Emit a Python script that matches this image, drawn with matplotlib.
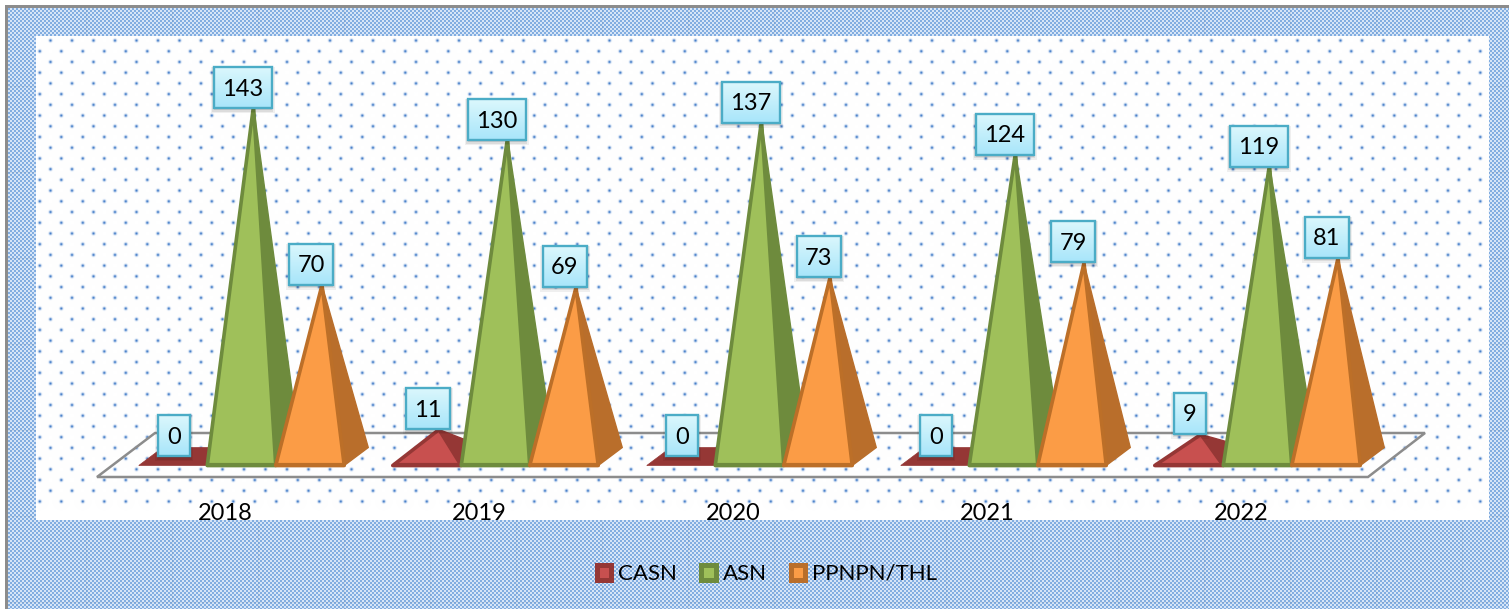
import numpy as np
import matplotlib
matplotlib.use('Agg')
import matplotlib.pyplot as plt
from matplotlib.patches import Patch, Polygon, Rectangle

plt.rcParams['font.family'] = ['Lato', 'DejaVu Sans']

years = ['2018', '2019', '2020', '2021', '2022']
series = ['CASN', 'ASN', 'PPNPN/THL']
casn = [0, 11, 0, 0, 9]
asn = [143, 130, 137, 124, 119]
ppnpn = [70, 69, 73, 79, 81]
values = [casn, asn, ppnpn]
face = ['#C8504F', '#9FC05A', '#FB9C46']
side = ['#953735', '#6E8B3D', '#B96E2B']
edge = ['#953735', '#6E8B3D', '#BC6F28']

# pixel scale of the data axes
W, H = 1509, 609
PX_X = 254.0    # px per category
PX_Y = 2.45     # px per unit
X0, Y0 = 241.5, 456.5   # where category 0 / value 0 sit


def ux(px):
    return px / PX_X


def uy(px):
    return px / PX_Y


# background pattern
yy, xx = np.mgrid[0:H, 0:W]
chk = ((xx // 2 + yy // 2) % 2).astype(float)
c1 = np.array([0.51, 0.68, 0.88])
c2 = np.array([0.84, 0.90, 0.97])
bg = c1 + (c2 - c1) * chk[..., None]
seam = (xx % 86 < 1) | (yy % 86 < 1)
bg[seam] = bg[seam] * 0.95
# white panel with staggered dots
panel = np.ones((H, W, 3))
d = np.full((H, W), 99.0)
for row in range(0, 46):
    ypos = 40 + row * 10.72 - 10.72 * 2
    off = 50 if row % 2 == 0 else 39.3
    dx = (xx - off + 21.5 * 5 + 10.75) % 21.5 - 10.75
    d = np.minimum(d, dx ** 2 + (yy - ypos) ** 2)
a = np.exp(-d / 2.3)[..., None]
panel = panel + (np.array([0.28, 0.50, 0.79]) - panel) * a
inner = (xx >= 36) & (xx < 1489) & (yy >= 36) & (yy < 520)
bg[inner] = panel[inner]
# outer white margin and grey frame
bg[(xx < 8) | (yy < 8)] = (0.55, 0.55, 0.55)
bg[(xx < 5) | (yy < 5)] = (1, 1, 1)

fig = plt.figure(figsize=(W / 100, H / 100), dpi=100)
fig.figimage(bg, 0, 0, origin='upper', zorder=-1)
ax = fig.add_axes([0, 0, 1, 1])
ax.patch.set_alpha(0)
ax.set_xlim(ux(0 - X0), ux(W - X0))
ax.set_ylim(uy(Y0 - H), uy(Y0))
ax.set_autoscale_on(False)
ax.axis('off')

# floor
fx = [ux(97 - X0), ux(1368 - X0), ux(1425 - X0), ux(155 - X0)]
fy = [uy(Y0 - 477), uy(Y0 - 477), uy(Y0 - 433), uy(Y0 - 433)]
ax.add_patch(Polygon(np.column_stack([fx, fy]), closed=True, fill=False,
                     ec='#8C8C8C', lw=1.8, zorder=1))

bar_w = ux(68.5)
depth_x = ux(24)
depth_y = uy(18)
front_y = -depth_y / 2
grad = np.linspace(0, 1, 32)[:, None, None]
box_top = np.array([0.86, 0.97, 0.99])
box_bot = np.array([0.66, 0.90, 0.98])
box_img = box_top + (box_bot - box_top) * grad
box_w = {1: 32, 2: 44, 3: 58}
lab_off = [21, 18.5, 21]

z = 2
for i in range(len(years)):
    for s in range(3):
        v = values[s][i]
        left = i + (s - 1.5) * bar_w
        right = left + bar_w
        apex = (left + bar_w / 2 + depth_x / 2, v)
        if v == 0:
            ax.add_patch(Polygon([(left, front_y), (right, front_y),
                                  (right + depth_x, front_y + depth_y),
                                  (left + depth_x, front_y + depth_y)],
                                 closed=True, fc=side[s], ec=side[s], lw=0.5, zorder=z))
        else:
            ax.add_patch(Polygon([(right, front_y), (right + depth_x, front_y + depth_y), apex],
                                 closed=True, fc=side[s], ec=side[s], lw=1, zorder=z))
            ax.add_patch(Polygon([(left, front_y), (right, front_y), apex],
                                 closed=True, fc=face[s], ec=edge[s], lw=2.6,
                                 joinstyle='round', zorder=z + 0.5))
            ax.plot([left, right], [front_y + uy(1), front_y + uy(1)], color=edge[s],
                    lw=3, solid_capstyle='butt', zorder=z + 0.6)
        z += 1

# value labels on top of everything
for i in range(len(years)):
    for s in range(3):
        v = values[s][i]
        cx = i + (s - 1) * bar_w + ux(1)
        cy = v + uy(lab_off[s])
        hw = ux(box_w[len(str(v))] / 2)
        hh = uy(20.5)
        for k, al in ((5, 0.06), (3.5, 0.08), (2, 0.10)):
            ax.add_patch(Rectangle((cx - hw - ux(k - 2), cy - hh - uy(k)),
                                   2 * hw + ux(2 * k - 4), 2 * hh + uy(k),
                                   fc='k', ec='none', alpha=al, zorder=100))
        ax.imshow(box_img, extent=(cx - hw, cx + hw, cy - hh, cy + hh),
                  aspect='auto', zorder=101)
        ax.add_patch(Rectangle((cx - hw, cy - hh), 2 * hw, 2 * hh, fill=False,
                               ec='#4BACC6', lw=1.7, zorder=102))
        ax.text(cx, cy - uy(1.5), str(v), ha='center', va='center', fontsize=17,
                color='k', zorder=103)

# category labels
for i, y in enumerate(years):
    ax.text(i + ux(-16), uy(Y0 - 514), y, ha='center', va='center',
            fontsize=17, color='k', zorder=50)

handles = [Patch(fc=face[s], ec=side[s], lw=3.6, label=series[s]) for s in range(3)]
ax.legend(handles=handles, loc='center', bbox_to_anchor=(767 / W, 1 - 574 / H),
          ncol=3, frameon=False, fontsize=16, borderpad=0, borderaxespad=0,
          handlelength=0.65, handleheight=0.65, handletextpad=0.3, columnspacing=1.1)

fig.savefig('out.png', dpi=100)
